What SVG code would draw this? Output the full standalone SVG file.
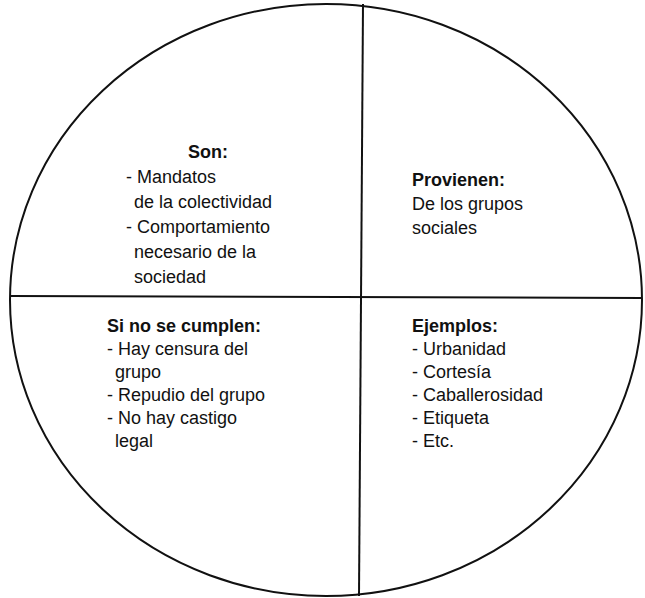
<svg xmlns="http://www.w3.org/2000/svg" width="645" height="598" viewBox="0 0 645 598">
<style>
  .ln { fill: none; stroke: #111; stroke-width: 2; }
  text { font-family: "Liberation Sans", Arial, sans-serif; font-size: 18px; fill: #111; }
  .h { font-weight: bold; }
</style>
<rect width="645" height="598" fill="#fff"/>
<g id="connectors">
  <ellipse class="ln" cx="326" cy="300" rx="316" ry="296"/>
  <line class="ln" x1="363" y1="4" x2="359" y2="596"/>
  <line class="ln" x1="10" y1="296" x2="642" y2="298"/>
</g>
<g id="son">
  <text class="h" x="188" y="158">Son:</text>
  <text x="126" y="183">- Mandatos</text>
  <text x="134" y="208">de la colectividad</text>
  <text x="126" y="233">- Comportamiento</text>
  <text x="134" y="258">necesario de la</text>
  <text x="134" y="283">sociedad</text>
</g>
<g id="provienen">
  <text class="h" x="412" y="186">Provienen:</text>
  <text x="412" y="210">De los grupos</text>
  <text x="412" y="234">sociales</text>
</g>
<g id="sinocumplen">
  <text class="h" x="107" y="332">Si no se cumplen:</text>
  <text x="107" y="355">- Hay censura del</text>
  <text x="115" y="378">grupo</text>
  <text x="107" y="401">- Repudio del grupo</text>
  <text x="107" y="424">- No hay castigo</text>
  <text x="115" y="447">legal</text>
</g>
<g id="ejemplos">
  <text class="h" x="412" y="332">Ejemplos:</text>
  <text x="412" y="355">- Urbanidad</text>
  <text x="412" y="378">- Cortesía</text>
  <text x="412" y="401">- Caballerosidad</text>
  <text x="412" y="424">- Etiqueta</text>
  <text x="412" y="447">- Etc.</text>
</g>
</svg>
